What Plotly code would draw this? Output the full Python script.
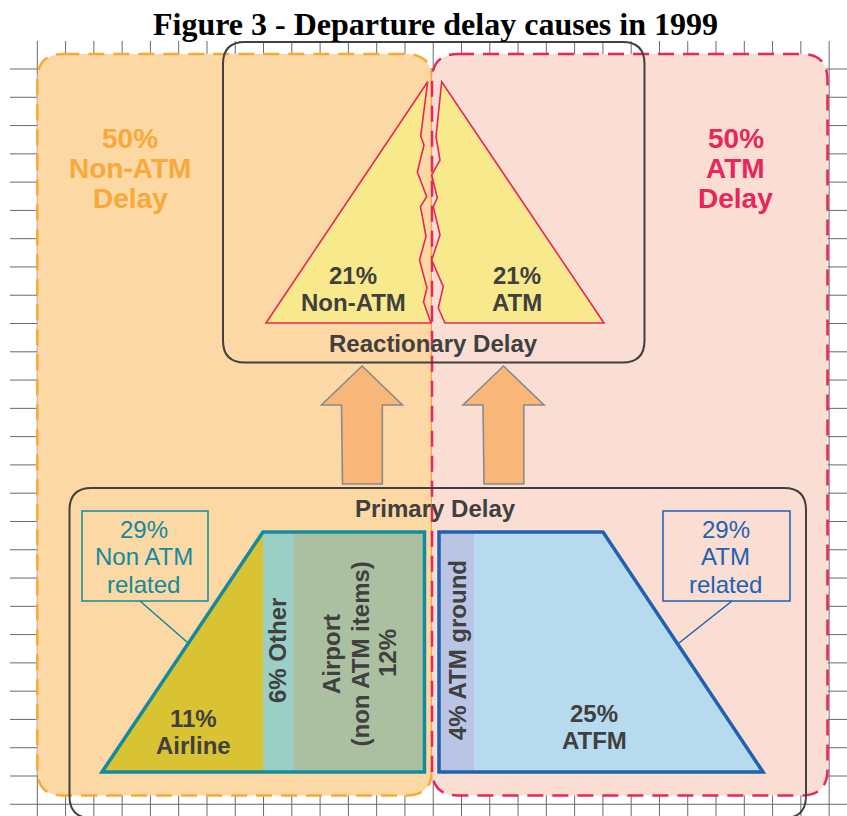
import plotly.graph_objects as go

W, H = 847, 816

# ---- data (values shown in the diagram) ----
title_text = "Figure 3 - Departure delay causes in 1999"
side_share = [50, 50]
side_label = ["Non-ATM", "ATM"]
reactionary_share = [21, 21]
reactionary_label = ["Non-ATM", "ATM"]
primary_total_share = [29, 29]
primary_total_label = ["Non ATM", "ATM"]
nonatm_cause = ["Airline", "Other", "Airport"]
nonatm_share = [11, 6, 12]
atm_cause = ["ATM ground", "ATFM"]
atm_share = [4, 25]

# ---- colours ----
ORANGE_FILL = "#FBD8A4"
ORANGE_LINE = "#F7A93A"
PINK_FILL = "#FADDD3"
PINK_LINE = "#E8265A"
DARK = "#404040"
TRI_FILL = "#F8E98C"
TEAL = "#138A9D"
BLUE = "#1F62AE"
GRID = "#6a6a6a"


def poly(pts):
    return "M " + " L ".join(f"{x},{y}" for x, y in pts) + " Z"


def rrect(x0, y0, x1, y1, r):
    return (f"M {x0+r},{y0} L {x1-r},{y0} Q {x1},{y0} {x1},{y0+r} "
            f"L {x1},{y1-r} Q {x1},{y1} {x1-r},{y1} L {x0+r},{y1} "
            f"Q {x0},{y1} {x0},{y1-r} L {x0},{y0+r} Q {x0},{y0} {x0+r},{y0} Z")


shapes = []

# background grid
for k in range(29):
    x = 37.3 + k * 28.28
    shapes.append(dict(type="line", x0=x, x1=x, y0=41, y1=H,
                       line=dict(color=GRID, width=1)))
for k in range(27):
    y = 69 + k * 28.28
    shapes.append(dict(type="line", x0=10, x1=W, y0=y, y1=y,
                       line=dict(color=GRID, width=1)))

# two halves
shapes.append(dict(type="path", path=rrect(37.3, 54, 432, 795.5, 26),
                   fillcolor=ORANGE_FILL,
                   line=dict(color=ORANGE_LINE, width=2.5, dash="16px,9px")))
shapes.append(dict(type="path", path=rrect(432, 54, 827.5, 795.5, 26),
                   fillcolor=PINK_FILL,
                   line=dict(color=PINK_LINE, width=2.5, dash="16px,9px")))

# reactionary box
shapes.append(dict(type="path", path=rrect(223, 42, 644.5, 362.5, 22),
                   line=dict(color=DARK, width=2)))

# reactionary triangles with torn edges
left_tear = [(427.7, 81.7), (420.7, 136), (424, 145), (417.3, 172), (426.7, 196.7),
             (420.5, 206.7), (426, 236.5), (419.5, 260), (427, 288), (423.5, 302),
             (431, 323)]
right_tear = [(441.7, 81.7), (436, 136.7), (440, 160), (431.7, 175), (437.3, 198),
              (433.3, 206.7), (440, 235), (431.7, 260), (443.3, 286.7), (438.3, 308),
              (445, 323)]
shapes.append(dict(type="path", path=poly([(266, 323)] + left_tear),
                   fillcolor=TRI_FILL, line=dict(color=PINK_LINE, width=1.6)))
shapes.append(dict(type="path", path=poly([(604, 323)] + right_tear[::-1][:-1] + [right_tear[0]]),
                   fillcolor=TRI_FILL, line=dict(color=PINK_LINE, width=1.6)))

# arrows
for cx in (362, 503.5):
    pts = [(cx, 366), (cx + 40.5, 405), (cx + 20.3, 405), (cx + 20.3, 484),
           (cx - 19.5, 484), (cx - 20.5, 405), (cx - 40.5, 405)]
    shapes.append(dict(type="path", path=poly(pts), fillcolor="#F9B679",
                       line=dict(color="#8A8A8A", width=1.6)))

# primary box
shapes.append(dict(type="path", path=rrect(69.5, 488, 806, 818, 22),
                   line=dict(color=DARK, width=2)))

# non-ATM primary trapezoid
shapes.append(dict(type="path", path=poly([(102, 772), (263, 532), (263, 772)]),
                   fillcolor="#D9C332", line=dict(width=0)))
shapes.append(dict(type="rect", x0=263, x1=294, y0=532, y1=772,
                   fillcolor="#9BCFC6", line=dict(width=0)))
shapes.append(dict(type="rect", x0=294, x1=424.5, y0=532, y1=772,
                   fillcolor="#ABBFA1", line=dict(width=0)))
shapes.append(dict(type="path", path=poly([(102, 772), (263, 532), (424.5, 532), (424.5, 772)]),
                   line=dict(color=TEAL, width=3.5)))

# ATM primary trapezoid
shapes.append(dict(type="path", path=poly([(474, 532), (603, 532), (763, 772), (474, 772)]),
                   fillcolor="#B7DAEE", line=dict(width=0)))
shapes.append(dict(type="rect", x0=439, x1=474, y0=532, y1=772,
                   fillcolor="#BAC5E5", line=dict(width=0)))
shapes.append(dict(type="path", path=poly([(439, 532), (603, 532), (763, 772), (439, 772)]),
                   line=dict(color=BLUE, width=3.5)))

# callouts
shapes.append(dict(type="rect", x0=82, x1=208, y0=511, y1=601, line=dict(color=TEAL, width=1.5)))
shapes.append(dict(type="line", x0=140, y0=601, x1=187, y1=642, line=dict(color=TEAL, width=1.5)))
shapes.append(dict(type="rect", x0=663, x1=790, y0=511, y1=601, line=dict(color=BLUE, width=1.5)))
shapes.append(dict(type="line", x0=732, y0=601, x1=679, y1=643, line=dict(color=BLUE, width=1.5)))

ann = []


def txt(x, y, s, size=24, color=DARK, bold=True, angle=0, family="Liberation Sans"):
    ann.append(dict(x=x, y=y, xref="x", yref="y", text=s, showarrow=False,
                    xanchor="center", yanchor="middle", textangle=angle,
                    font=dict(family=family, size=size, color=color,
                              weight="bold" if bold else "normal")))


txt(435, 23.5, title_text, size=32, color="black", family="Liberation Serif")

# 50% halves
for cx, col, share, lab in ((130, ORANGE_LINE, side_share[0], side_label[0]),
                            (735.5, PINK_LINE, side_share[1], side_label[1])):
    txt(cx, 138, f"{share}%", size=28, color=col)
    txt(cx, 168, lab, size=28, color=col)
    txt(cx, 198, "Delay", size=28, color=col)

# reactionary
for cx, share, lab in ((353, reactionary_share[0], reactionary_label[0]),
                       (516.5, reactionary_share[1], reactionary_label[1])):
    txt(cx, 275.5, f"{share}%")
    txt(cx, 302.5, lab)
txt(433.5, 343, "Reactionary Delay")
txt(435, 508.5, "Primary Delay")

# callout texts
for cx, col, share, lab in ((143.5, TEAL, primary_total_share[0], primary_total_label[0]),
                            (725.5, BLUE, primary_total_share[1], primary_total_label[1])):
    txt(cx, 529, f"{share}%", color=col, bold=False)
    txt(cx, 556.5, lab, color=col, bold=False)
    txt(cx, 584, "related", color=col, bold=False)

# non-ATM causes
txt(193, 718, f"{nonatm_share[0]}%")
txt(193, 745, nonatm_cause[0])
txt(277, 651, f"{nonatm_share[1]}% {nonatm_cause[1]}", angle=-90)
txt(331, 654, nonatm_cause[2], angle=-90)
txt(359.5, 654, "(non ATM items)", angle=-90)
txt(387, 653, f"{nonatm_share[2]}%", angle=-90)

# ATM causes
txt(457, 650, f"{atm_share[0]}% {atm_cause[0]}", angle=-90)
txt(594, 713.5, f"{atm_share[1]}%")
txt(594, 740.5, atm_cause[1])

fig = go.Figure()
fig.update_layout(
    width=W, height=H, autosize=False,
    margin=dict(l=0, r=0, t=0, b=0),
    paper_bgcolor="white", plot_bgcolor="white",
    xaxis=dict(range=[0, W], visible=False, fixedrange=True),
    yaxis=dict(range=[H, 0], visible=False, fixedrange=True),
    shapes=shapes, annotations=ann, showlegend=False,
)
fig.write_html("out.html", config={"displayModeBar": False},
               post_script="document.body.style.margin='0';document.body.style.overflow='hidden';")
